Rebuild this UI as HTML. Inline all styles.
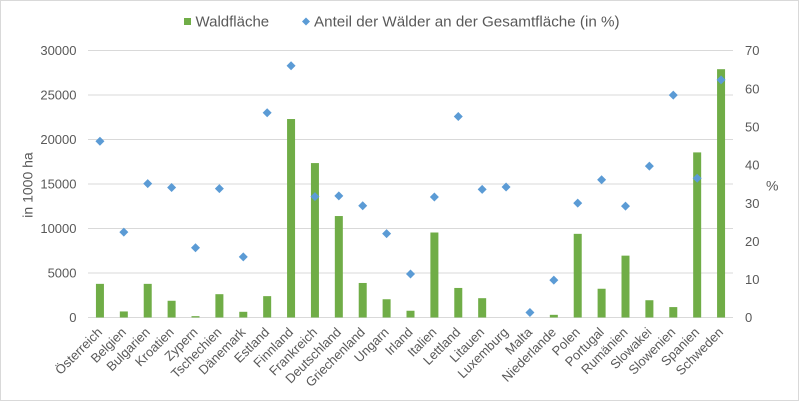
<!DOCTYPE html>
<html><head><meta charset="utf-8"><style>
html,body{margin:0;padding:0;background:#fff;}
svg{display:block;}
text{font-family:"Liberation Sans",Arial,sans-serif;fill:#595959;}
</style></head><body>
<svg width="800" height="402" viewBox="0 0 800 402" xmlns="http://www.w3.org/2000/svg">
<rect x="0.5" y="0.5" width="798" height="400" fill="#fff" stroke="#d9d9d9" stroke-width="1"/>
<!-- gridlines -->
<g stroke="#d9d9d9" stroke-width="1">
<line x1="88" x2="733" y1="50.5" y2="50.5"/>
<line x1="88" x2="733" y1="95" y2="95"/>
<line x1="88" x2="733" y1="139.5" y2="139.5"/>
<line x1="88" x2="733" y1="184" y2="184"/>
<line x1="88" x2="733" y1="228.5" y2="228.5"/>
<line x1="88" x2="733" y1="273" y2="273"/>
<line x1="88" x2="733" y1="317.5" y2="317.5"/>
</g>
<!-- left ticks -->
<g font-size="13" text-anchor="end">
<text x="76.5" y="55.2">30000</text>
<text x="76.5" y="99.7">25000</text>
<text x="76.5" y="144.2">20000</text>
<text x="76.5" y="188.7">15000</text>
<text x="76.5" y="233.2">10000</text>
<text x="76.5" y="277.7">5000</text>
<text x="76.5" y="322.2">0</text>
</g>
<!-- right ticks -->
<g font-size="13" text-anchor="start">
<text x="745" y="55.2">70</text>
<text x="745" y="93.3">60</text>
<text x="745" y="131.5">50</text>
<text x="745" y="169.6">40</text>
<text x="745" y="207.8">30</text>
<text x="745" y="245.9">20</text>
<text x="745" y="284.1">10</text>
<text x="745" y="322.2">0</text>
</g>
<text x="32.5" y="185" font-size="14" text-anchor="middle" transform="rotate(-90 32.5 185)">in 1000 ha</text>
<text x="766" y="190.5" font-size="14">%</text>
<!-- legend -->
<rect x="184" y="18" width="7" height="7" fill="#70ad47"/>
<text x="195.5" y="26.7" font-size="15">Waldfläche</text>
<polygon points="306,17.5 310,21.5 306,25.5 302,21.5" fill="#5b9bd5"/>
<text x="314" y="26.7" font-size="15.2">Anteil der Wälder an der Gesamtfläche (in %)</text>
<!-- bars -->
<g fill="#70ad47">
<rect x="95.94" y="283.86" width="8" height="33.64"/>
<rect x="119.83" y="311.45" width="8" height="6.05"/>
<rect x="143.72" y="283.86" width="8" height="33.64"/>
<rect x="167.61" y="300.77" width="8" height="16.73"/>
<rect x="191.5" y="316.16" width="8" height="1.34"/>
<rect x="215.39" y="294.18" width="8" height="23.32"/>
<rect x="239.28" y="311.8" width="8" height="5.7"/>
<rect x="263.17" y="296.14" width="8" height="21.36"/>
<rect x="287.06" y="119.03" width="8" height="198.47"/>
<rect x="310.94" y="163.08" width="8" height="154.42"/>
<rect x="334.83" y="216.04" width="8" height="101.46"/>
<rect x="358.72" y="282.97" width="8" height="34.53"/>
<rect x="382.61" y="299.25" width="8" height="18.25"/>
<rect x="406.5" y="310.74" width="8" height="6.76"/>
<rect x="430.39" y="232.5" width="8" height="85"/>
<rect x="454.28" y="287.95" width="8" height="29.55"/>
<rect x="478.17" y="298.19" width="8" height="19.31"/>
<rect x="549.83" y="314.83" width="8" height="2.67"/>
<rect x="573.72" y="233.84" width="8" height="83.66"/>
<rect x="597.61" y="288.75" width="8" height="28.75"/>
<rect x="621.5" y="255.64" width="8" height="61.86"/>
<rect x="645.39" y="300.23" width="8" height="17.27"/>
<rect x="669.28" y="307.09" width="8" height="10.41"/>
<rect x="693.17" y="152.4" width="8" height="165.1"/>
<rect x="717.06" y="69.19" width="8" height="248.31"/>
</g>
<!-- diamonds -->
<g fill="#5b9bd5">
<path d="M99.94,136.8l4.5,4.5l-4.5,4.5l-4.5,-4.5z"/>
<path d="M123.83,227.57l4.5,4.5l-4.5,4.5l-4.5,-4.5z"/>
<path d="M147.72,179.13l4.5,4.5l-4.5,4.5l-4.5,-4.5z"/>
<path d="M171.61,182.94l4.5,4.5l-4.5,4.5l-4.5,-4.5z"/>
<path d="M195.5,243.2l4.5,4.5l-4.5,4.5l-4.5,-4.5z"/>
<path d="M219.39,184.09l4.5,4.5l-4.5,4.5l-4.5,-4.5z"/>
<path d="M243.28,252.36l4.5,4.5l-4.5,4.5l-4.5,-4.5z"/>
<path d="M267.17,108.19l4.5,4.5l-4.5,4.5l-4.5,-4.5z"/>
<path d="M291.06,61.28l4.5,4.5l-4.5,4.5l-4.5,-4.5z"/>
<path d="M314.94,192.1l4.5,4.5l-4.5,4.5l-4.5,-4.5z"/>
<path d="M338.83,191.33l4.5,4.5l-4.5,4.5l-4.5,-4.5z"/>
<path d="M362.72,201.25l4.5,4.5l-4.5,4.5l-4.5,-4.5z"/>
<path d="M386.61,229.09l4.5,4.5l-4.5,4.5l-4.5,-4.5z"/>
<path d="M410.5,269.52l4.5,4.5l-4.5,4.5l-4.5,-4.5z"/>
<path d="M434.39,192.48l4.5,4.5l-4.5,4.5l-4.5,-4.5z"/>
<path d="M458.28,112l4.5,4.5l-4.5,4.5l-4.5,-4.5z"/>
<path d="M482.17,184.85l4.5,4.5l-4.5,4.5l-4.5,-4.5z"/>
<path d="M506.06,182.56l4.5,4.5l-4.5,4.5l-4.5,-4.5z"/>
<path d="M529.94,308.04l4.5,4.5l-4.5,4.5l-4.5,-4.5z"/>
<path d="M553.83,275.62l4.5,4.5l-4.5,4.5l-4.5,-4.5z"/>
<path d="M577.72,198.58l4.5,4.5l-4.5,4.5l-4.5,-4.5z"/>
<path d="M601.61,175.31l4.5,4.5l-4.5,4.5l-4.5,-4.5z"/>
<path d="M625.5,201.63l4.5,4.5l-4.5,4.5l-4.5,-4.5z"/>
<path d="M649.39,161.58l4.5,4.5l-4.5,4.5l-4.5,-4.5z"/>
<path d="M673.28,90.64l4.5,4.5l-4.5,4.5l-4.5,-4.5z"/>
<path d="M697.17,173.79l4.5,4.5l-4.5,4.5l-4.5,-4.5z"/>
<path d="M721.06,75.39l4.5,4.5l-4.5,4.5l-4.5,-4.5z"/>
</g>
<!-- x labels -->
<g font-size="13" text-anchor="end">
<text x="102.94" y="333" transform="rotate(-45 102.94 333)">Österreich</text>
<text x="126.83" y="333" transform="rotate(-45 126.83 333)">Belgien</text>
<text x="150.72" y="333" transform="rotate(-45 150.72 333)">Bulgarien</text>
<text x="174.61" y="333" transform="rotate(-45 174.61 333)">Kroatien</text>
<text x="198.5" y="333" transform="rotate(-45 198.5 333)">Zypern</text>
<text x="222.39" y="333" transform="rotate(-45 222.39 333)">Tschechien</text>
<text x="246.28" y="333" transform="rotate(-45 246.28 333)">Dänemark</text>
<text x="270.17" y="333" transform="rotate(-45 270.17 333)">Estland</text>
<text x="294.06" y="333" transform="rotate(-45 294.06 333)">Finnland</text>
<text x="317.94" y="333" transform="rotate(-45 317.94 333)">Frankreich</text>
<text x="341.83" y="333" transform="rotate(-45 341.83 333)">Deutschland</text>
<text x="365.72" y="333" transform="rotate(-45 365.72 333)">Griechenland</text>
<text x="389.61" y="333" transform="rotate(-45 389.61 333)">Ungarn</text>
<text x="413.5" y="333" transform="rotate(-45 413.5 333)">Irland</text>
<text x="437.39" y="333" transform="rotate(-45 437.39 333)">Italien</text>
<text x="461.28" y="333" transform="rotate(-45 461.28 333)">Lettland</text>
<text x="485.17" y="333" transform="rotate(-45 485.17 333)">Litauen</text>
<text x="509.06" y="333" transform="rotate(-45 509.06 333)">Luxemburg</text>
<text x="532.94" y="333" transform="rotate(-45 532.94 333)">Malta</text>
<text x="556.83" y="333" transform="rotate(-45 556.83 333)">Niederlande</text>
<text x="580.72" y="333" transform="rotate(-45 580.72 333)">Polen</text>
<text x="604.61" y="333" transform="rotate(-45 604.61 333)">Portugal</text>
<text x="628.5" y="333" transform="rotate(-45 628.5 333)">Rumänien</text>
<text x="652.39" y="333" transform="rotate(-45 652.39 333)">Slowakei</text>
<text x="676.28" y="333" transform="rotate(-45 676.28 333)">Slowenien</text>
<text x="700.17" y="333" transform="rotate(-45 700.17 333)">Spanien</text>
<text x="724.06" y="333" transform="rotate(-45 724.06 333)">Schweden</text>
</g>
</svg>
</body></html>
